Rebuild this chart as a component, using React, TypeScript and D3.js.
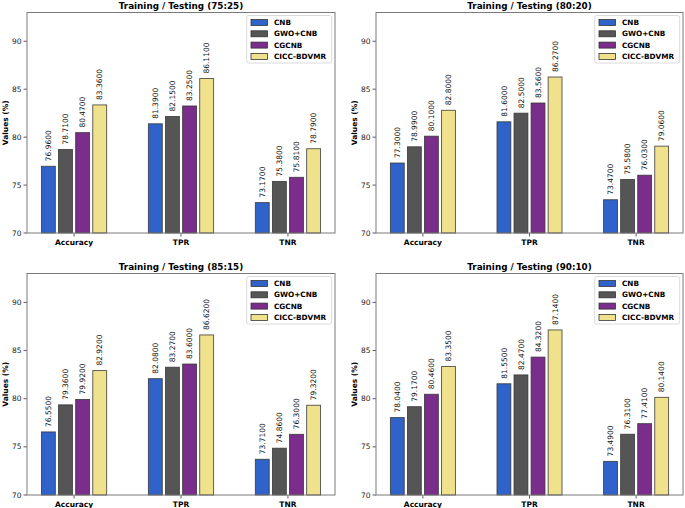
import React from "react";
import { scaleLinear } from "d3";

const categories = ["Accuracy", "TPR", "TNR"];
const models = ["CNB", "GWO+CNB", "CGCNB", "CICC-BDVMR"];
const splits = ["75:25", "80:20", "85:15", "90:10"];
const yTicks = [70, 75, 80, 85, 90];

// values[split][model][category]
const split7525 = [
  [76.96, 81.39, 73.17],
  [78.71, 82.15, 75.38],
  [80.47, 83.25, 75.81],
  [83.36, 86.11, 78.79],
];
const split8020 = [
  [77.3, 81.6, 73.47],
  [78.99, 82.5, 75.58],
  [80.1, 83.56, 76.03],
  [82.8, 86.27, 79.06],
];
const split8515 = [
  [76.55, 82.08, 73.71],
  [79.36, 83.27, 74.86],
  [79.92, 83.6, 76.3],
  [82.92, 86.62, 79.32],
];
const split9010 = [
  [78.04, 81.55, 73.49],
  [79.17, 82.47, 76.31],
  [80.46, 84.32, 77.41],
  [83.35, 87.14, 80.14],
];
const allValues = [split7525, split8020, split8515, split9010];

const colors = ["#3063c9", "#555555", "#7b2d8b", "#f0e28c"];
const font = "DejaVu Sans, sans-serif";

// panel frames: [left, top, right, bottom]
const frames = [
  [27, 12.5, 335, 233],
  [376, 12.5, 683, 233],
  [27, 273.5, 335, 495],
  [376, 273.5, 683, 495],
];

const barW = 0.13;
const step = 0.16;

const Panel = ({ idx }: { idx: number }) => {
  const [l, t, r, b] = frames[idx];
  const data = allValues[idx];
  const x = scaleLinear().domain([-0.44, 2.44]).range([l, r]);
  const y = scaleLinear().domain([70, 93]).range([b, t]);
  const bw = x(barW) - x(0);
  return (
    <g>
      <text
        x={(l + r) / 2}
        y={t - 4}
        textAnchor="middle"
        fontFamily={font}
        fontWeight="bold"
        fontSize={8.8}
      >
        {`Training / Testing (${splits[idx]})`}
      </text>
      <text
        transform={`translate(${l - 19.5},${(t + b) / 2}) rotate(-90)`}
        textAnchor="middle"
        fontFamily={font}
        fontWeight="bold"
        fontSize={7.5}
      >
        Values (%)
      </text>
      {yTicks.map((v) => (
        <g key={v}>
          <line x1={l - 3.5} x2={l} y1={y(v)} y2={y(v)} stroke="#333" strokeWidth={0.8} />
          <text
            x={l - 5.5}
            y={y(v)}
            dy="0.35em"
            textAnchor="end"
            fontFamily={font}
            fontSize={7.5}
            fill="#222"
          >
            {v}
          </text>
        </g>
      ))}
      {categories.map((c, ci) => (
        <g key={c}>
          <line x1={x(ci)} x2={x(ci)} y1={b} y2={b + 3.5} stroke="#333" strokeWidth={0.8} />
          <text
            x={x(ci)}
            y={b + 12}
            textAnchor="middle"
            fontFamily={font}
            fontWeight="bold"
            fontSize={7.5}
          >
            {c}
          </text>
        </g>
      ))}
      {data.map((series, mi) =>
        series.map((v, ci) => {
          const cx = ci + (mi - 1.5) * step;
          const x0 = x(cx - barW / 2);
          return (
            <g key={`${mi}-${ci}`}>
              <rect
                x={x0}
                y={y(v)}
                width={bw}
                height={b - y(v)}
                fill={colors[mi]}
                stroke="#333"
                strokeOpacity={0.85}
                strokeWidth={0.9}
              />
              <text
                transform={`translate(${x(cx)},${y(v) - 5}) rotate(-90)`}
                dy="0.35em"
                textAnchor="start"
                fontFamily={font}
                fontSize={7.5}
                fill="#111"
              >
                {v.toFixed(4)}
              </text>
            </g>
          );
        })
      )}
      <rect x={l} y={t} width={r - l} height={b - t} fill="none" stroke="#7a7a7a" strokeWidth={1} />
      <g>
        <rect
          x={r - 88.3}
          y={t + 3}
          width={85}
          height={47.5}
          rx={2}
          fill="#fff"
          fillOpacity={0.8}
          stroke="#d0d0d0"
          strokeWidth={0.8}
        />
        {models.map((m, mi) => {
          const cy = t + 10 + mi * 11.3;
          return (
            <g key={m}>
              <rect
                x={r - 84}
                y={cy - 3}
                width={16.5}
                height={6}
                fill={colors[mi]}
                stroke="#333"
                strokeWidth={0.8}
              />
              <text
                x={r - 61}
                y={cy}
                dy="0.35em"
                fontFamily={font}
                fontWeight="bold"
                fontSize={7.3}
              >
                {m}
              </text>
            </g>
          );
        })}
      </g>
    </g>
  );
};

export default function App() {
  return (
    <svg
      width={685}
      height={508}
      style={{ position: "absolute", left: 0, top: 0, background: "#fff" }}
    >
      <rect width={685} height={508} fill="#fff" />
      {frames.map((_, i) => (
        <Panel key={i} idx={i} />
      ))}
    </svg>
  );
}
